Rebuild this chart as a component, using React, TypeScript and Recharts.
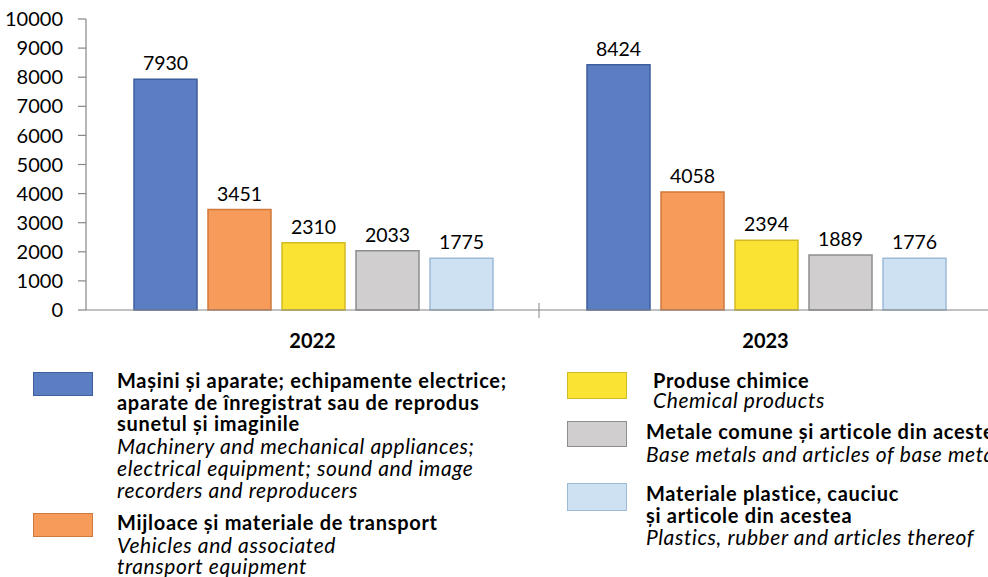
import React from 'react';
import { BarChart, Bar, XAxis, YAxis, LabelList } from 'recharts';

const categories = ['2022', '2023'];
const machinery = [7930, 8424];
const vehicles = [3451, 4058];
const chemicals = [2310, 2394];
const metals = [2033, 1889];
const plastics = [1775, 1776];
const yTicks = [0, 1000, 2000, 3000, 4000, 5000, 6000, 7000, 8000, 9000, 10000];

const seriesKeys = ['machinery', 'vehicles', 'chemicals', 'metals', 'plastics'];
const fills = ['#5B7EC2', '#F79B5B', '#FBE334', '#D0CECE', '#CEE1F3'];
const strokes = ['#3E5F9E', '#CF7A3D', '#D3BB25', '#8E8E8E', '#9DBAD7'];

const legendBold = [
  ['Mașini și aparate; echipamente electrice;', 'aparate de înregistrat sau de reprodus', 'sunetul și imaginile'],
  ['Mijloace și materiale de transport'],
  ['Produse chimice'],
  ['Metale comune și articole din acestea'],
  ['Materiale plastice, cauciuc', 'și articole din acestea'],
];
const legendItalic = [
  ['Machinery and mechanical appliances;', 'electrical equipment; sound and image', 'recorders and reproducers'],
  ['Vehicles and associated', 'transport equipment'],
  ['Chemical products'],
  ['Base metals and articles of base metals'],
  ['Plastics, rubber and articles thereof'],
];

const data = categories.map((c, i) => ({
  year: c,
  machinery: machinery[i],
  vehicles: vehicles[i],
  chemicals: chemicals[i],
  metals: metals[i],
  plastics: plastics[i],
}));

const HALF_BAND = 226.5;

const XTick = (props: any) => {
  const { x, y, payload, index } = props;
  return (
    <g>
      {index > 0 && (
        <line x1={x - HALF_BAND} x2={x - HALF_BAND} y1={y - 7} y2={y + 8} stroke="#868686" strokeWidth={1} />
      )}
      <text x={x} y={y + 38} textAnchor="middle" fontWeight="bold" fontSize={20} fill="#000">
        {payload.value}
      </text>
    </g>
  );
};

const swatchLayout = [
  { sx: 33, sy: 372, sh: 24, tx: 117, ty: 370, lh: 21.7, ilh: 21.7 },
  { sx: 33, sy: 513, sh: 24, tx: 117, ty: 512, lh: 21.7, ilh: 21.7 },
  { sx: 567, sy: 372, sh: 27, tx: 653, ty: 371, lh: 19, ilh: 19 },
  { sx: 567, sy: 421, sh: 26, tx: 646, ty: 421, lh: 21.7, ilh: 21.7 },
  { sx: 567, sy: 483, sh: 28, tx: 646, ty: 483, lh: 21.7, ilh: 21.7 },
];

export default function App() {
  return (
    <div
      style={{
        position: 'absolute',
        left: 0,
        top: 0,
        width: 988,
        height: 577,
        overflow: 'hidden',
        background: '#fff',
        fontFamily: 'Lato, sans-serif',
      }}
    >
      <BarChart
        width={992}
        height={577}
        data={data}
        margin={{ top: 19, right: 0, left: 6, bottom: 237 }}
        barCategoryGap={48}
        barGap={11}
        style={{ fontFamily: 'Lato, sans-serif' }}
      >
        <XAxis
          dataKey="year"
          height={30}
          tickSize={0}
          tickMargin={0}
          tickLine={false}
          axisLine={{ stroke: '#868686', strokeWidth: 1.2 }}
          tick={<XTick />}
          interval={0}
        />
        <YAxis
          width={80}
          domain={[0, 10000]}
          ticks={yTicks}
          interval={0}
          tickSize={8}
          tickMargin={15}
          axisLine={{ stroke: '#868686', strokeWidth: 1.2 }}
          tickLine={{ stroke: '#868686', strokeWidth: 1.2 }}
          tick={{ fill: '#000', fontSize: 20 }}
        />
        {seriesKeys.map((k, i) => (
          <Bar
            key={k}
            dataKey={k}
            fill={fills[i]}
            stroke={strokes[i]}
            strokeWidth={1.5}
            isAnimationActive={false}
          >
            <LabelList dataKey={k} position="top" offset={9} fill="#000" fontSize={19.5} />
          </Bar>
        ))}
      </BarChart>
      {swatchLayout.map((l, i) => (
        <React.Fragment key={i}>
          <div
            style={{
              position: 'absolute',
              left: l.sx,
              top: l.sy,
              width: 60,
              height: l.sh,
              boxSizing: 'border-box',
              background: fills[i],
              border: `1.5px solid ${strokes[i]}`,
            }}
          />
          <div
            style={{
              position: 'absolute',
              left: l.tx,
              top: l.ty,
              color: '#000',
              whiteSpace: 'nowrap',
            }}
          >
            {legendBold[i].map((t, j) => (
              <div
                key={'b' + j}
                style={{ fontWeight: 'bold', fontSize: 20, letterSpacing: '0.7px', lineHeight: l.lh + 'px' }}
              >
                {t}
              </div>
            ))}
            {legendItalic[i].map((t, j) => (
              <div
                key={'i' + j}
                style={{ fontStyle: 'italic', fontSize: 21, letterSpacing: '0.6px', lineHeight: l.ilh + 'px' }}
              >
                {t}
              </div>
            ))}
          </div>
        </React.Fragment>
      ))}
    </div>
  );
}
